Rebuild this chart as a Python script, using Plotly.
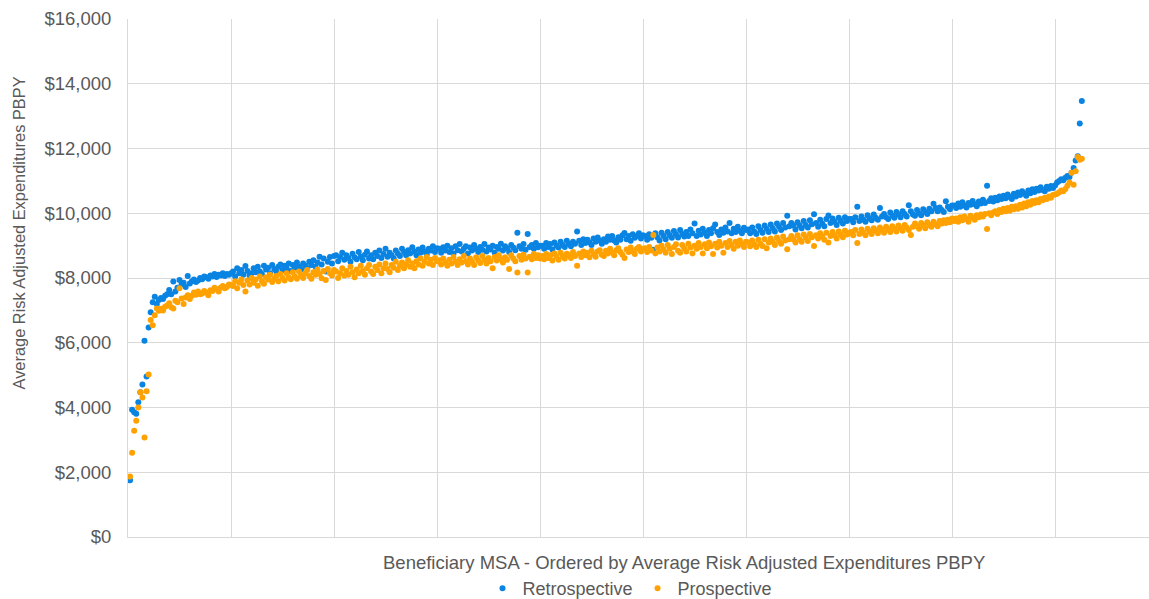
import plotly.graph_objects as go

# Retrospective (blue) values, ordered by MSA rank
retro_a = [1750, 3930, 3850, 3810, 4160, 4470, 4710, 6060, 4960, 6470, 6940, 7250]
retro_b = [7420, 7200, 7320, 7380, 7350, 7450, 7500, 7630, 7500, 7890, 7580, 7700, 7940, 7800, 7850,
           7720, 8060, 7830, 7900, 7950, 7880, 7920, 8000, 7960, 8050, 8020, 7980, 8080, 8050, 8120,
           8030, 8100, 8080, 8150, 8060, 8120, 8100, 8150]
retro_c = [8200, 8050, 8300, 8150, 8250, 8100, 8370, 8220, 8080, 8150,
           8300, 8180, 8350, 8200, 8120, 8380, 8260, 8320, 8150, 8400,
           8280, 8200, 8350, 8420, 8250, 8380, 8300, 8450, 8220, 8400,
           8320, 8480, 8350, 8260, 8450, 8380, 8300, 8500, 8400, 8550,
           8350, 8480, 8660, 8420, 8600, 8200, 8500, 8650, 8450, 8680]
retro_d = [8700, 8520, 8650, 8780, 8560, 8700, 8620, 8500, 8750, 8640,
           8580, 8800, 8660, 8550, 8720, 8820, 8600, 8700, 8580, 8780,
           8680, 8850, 8620, 8740, 8900, 8660, 8780, 8700, 8600, 8850,
           8750, 8680, 8900, 8800, 8700, 8860, 8760, 8950, 8820, 8700,
           8880, 8780, 8940, 8820, 8730, 8900, 8850, 8980, 8800, 8920]
retro_e = [8900, 8780, 8950, 8850, 9000, 8800, 8920, 8750, 8980, 8860,
           9050, 8820, 8900, 8980, 8760, 8940, 8850, 9020, 8900, 8800,
           8960, 8870, 9050, 8820, 8940, 8880, 9000, 8780, 8960, 8900,
           9060, 8850, 8980, 8920, 8800, 9020, 8940, 8860, 9400, 8980,
           8900, 9050, 8870, 9360, 8960, 9020, 8900, 9080, 8950, 9000]
retro_f = [9000, 8900, 9080, 8960, 9050, 8880, 9100, 9000, 8940, 9120,
           9020, 8960, 9150, 9050, 8980, 9120, 9060, 9440, 9150, 9020,
           9200, 9080, 9180, 9100, 9020, 9220, 9120, 9250, 9150, 9060,
           9200, 9120, 9280, 9180, 9300, 9160, 9100, 9260, 9180, 9320,
           9390, 9200, 9300, 9150, 9350, 9240, 9300, 9380, 9220, 9320]
retro_g = [9300, 9180, 9350, 9240, 8870, 9380, 9260, 9160, 9400, 9300,
           9200, 9420, 9320, 9240, 9450, 9350, 9250, 9480, 9360, 9280,
           9420, 9300, 9500, 9380, 9680, 9300, 9460, 9340, 9520, 9400,
           9300, 9480, 9380, 9540, 9650, 9420, 9330, 9500, 9400, 9560,
           9440, 9700, 9380, 9520, 9420, 9580, 9460, 9380, 9550, 9480]
retro_h = [9500, 9380, 9560, 9440, 9360, 9600, 9480, 9400, 9620, 9520,
           9420, 9650, 9540, 9440, 9680, 9580, 9480, 9700, 9560, 9920,
           9600, 9700, 9620, 9500, 9720, 9620, 9540, 9760, 9640, 9560,
           9780, 9660, 9970, 9700, 9580, 9800, 9680, 9600, 9820, 9930,
           9700, 9840, 9740, 9640, 9860, 9760, 9680, 9880, 9760, 9820]
retro_i = [9820, 9720, 9880, 10200, 9760, 9900, 9800, 9740, 9940, 9840,
           9780, 9960, 9860, 9800, 10160, 9900, 9980, 9880, 9820, 10020,
           9920, 9860, 10040, 9960, 9880, 10060, 9980, 9900, 10250, 10060,
           9960, 9920, 10100, 10000, 9940, 10120, 10040, 9980, 10140, 10060,
           10290, 10160, 10060, 10180, 10100, 10040, 10370, 10200, 10120, 10240]
retro_j = [10240, 10160, 10300, 10200, 10340, 10240, 10180, 10320, 10260, 10380,
           10280, 10220, 10360, 10300, 10420, 10320, 10850, 10380, 10460, 10360,
           10480, 10400, 10520, 10440, 10540, 10460, 10580, 10500, 10440, 10600,
           10520, 10640, 10560, 10680, 10600, 10540, 10700, 10620, 10740, 10660,
           10760, 10700, 10800, 10720, 10680, 10820, 10760, 10840, 10780, 10860]
retro_k = [10950, 11000, 11050, 11020, 11100, 11150, 11120, 11250, 11400, 11630, 11760, 12770, 13470]

# Prospective (orange) values, same MSA order
prosp_a = [1870, 2600, 3280, 3590, 4000, 4470, 4310, 3070, 4500, 5020, 6700, 6540]
prosp_b = [6850, 7060, 6990, 7050, 7000, 7110, 7150, 7220, 7100, 7060, 7300, 7250, 7680, 7370, 7200,
           7400, 7470, 7350, 7450, 7550, 7480, 7580, 7500, 7520, 7600, 7550, 7470, 7620, 7600, 7700,
           7650, 7580, 7700, 7750, 7680, 7720, 7800, 7780]
prosp_c = [7750, 7900, 7680, 7850, 7950, 7780, 7580, 7920, 7800, 8000,
           7850, 7950, 7760, 8050, 7900, 7820, 8020, 7950, 8100, 7880,
           7980, 8060, 7900, 8120, 8000, 7920, 8150, 8020, 7960, 8180,
           8050, 7980, 8200, 8080, 8000, 8150, 8250, 8060, 7980, 8180,
           8100, 8260, 8120, 7990, 8220, 7940, 8280, 8150, 8080, 8250]
prosp_d = [8200, 8000, 8150, 8300, 8080, 8220, 8100, 8350, 8180, 8020,
           8260, 8150, 8380, 8220, 8100, 8300, 8400, 8200, 8120, 8350,
           8250, 8420, 8150, 8300, 8450, 8280, 8180, 8400, 8320, 8500,
           8250, 8380, 8480, 8300, 8420, 8550, 8350, 8450, 8300, 8520,
           8420, 8600, 8380, 8500, 8650, 8450, 8560, 8400, 8620, 8520]
prosp_e = [8550, 8420, 8600, 8480, 8380, 8560, 8450, 8650, 8500, 8400,
           8580, 8480, 8680, 8520, 8420, 8600, 8500, 8400, 8640, 8540,
           8460, 8680, 8560, 8450, 8620, 8520, 8300, 8650, 8540, 8700,
           8580, 8480, 8640, 8560, 8280, 8700, 8600, 8520, 8170, 8680,
           8560, 8720, 8600, 8170, 8660, 8580, 8740, 8620, 8700, 8600]
prosp_f = [8680, 8580, 8740, 8620, 8700, 8540, 8760, 8660, 8560, 8780,
           8680, 8600, 8750, 8700, 8620, 8800, 8680, 8380, 8760, 8650,
           8820, 8700, 8780, 8640, 8840, 8740, 8660, 8820, 8860, 8720,
           8680, 8840, 8760, 8900, 8780, 8700, 8860, 8920, 8800, 8720,
           8620, 8880, 8800, 8940, 8820, 8740, 8900, 8960, 8820, 8900]
prosp_g = [8920, 8800, 8960, 8850, 9330, 8760, 8940, 8820, 9000, 8880,
           8780, 9020, 8900, 8740, 8960, 9040, 8840, 8780, 9020, 8920,
           8820, 9060, 8940, 8760, 9000, 8900, 9080, 8960, 8760, 9040,
           8920, 9100, 8980, 8740, 9060, 8940, 9120, 9000, 8780, 9080,
           8960, 9140, 9020, 8900, 9120, 9000, 9160, 9040, 8960, 9120]
prosp_h = [9100, 8980, 9160, 9040, 8960, 9180, 9060, 8990, 9200, 8920,
           9100, 9220, 9120, 9020, 9250, 9140, 9060, 9280, 9160, 8890,
           9200, 9300, 9200, 9100, 9320, 9200, 9120, 9340, 9240, 9140,
           9360, 9260, 8990, 9320, 9220, 9380, 9280, 9180, 9400, 9100,
           9300, 9420, 9320, 9220, 9440, 9340, 9260, 9460, 9340, 9400]
prosp_i = [9420, 9320, 9480, 9080, 9360, 9500, 9400, 9320, 9520, 9440,
           9360, 9540, 9460, 9380, 9560, 9480, 9400, 9580, 9500, 9420,
           9600, 9520, 9440, 9620, 9540, 9460, 9640, 9560, 9480, 9330,
           9580, 9680, 9600, 9520, 9700, 9620, 9540, 9720, 9640, 9580,
           9740, 9660, 9600, 9760, 9680, 9780, 9700, 9800, 9720, 9840]
prosp_j = [9760, 9840, 9740, 9880, 9780, 9900, 9820, 9740, 9920, 9860,
           9800, 9940, 9880, 9960, 9900, 9980, 9510, 10000, 9940, 10020,
           10060, 9980, 10100, 10040, 10140, 10060, 10160, 10080, 10200, 10120,
           10220, 10140, 10260, 10180, 10300, 10220, 10340, 10260, 10380, 10320,
           10400, 10340, 10440, 10400, 10480, 10440, 10520, 10480, 10560, 10580]
prosp_k = [10600, 10650, 10700, 10680, 10750, 10850, 10950, 11250, 10880, 11300, 11740, 11650, 11680]

retrospective = (retro_a + retro_b + retro_c + retro_d + retro_e + retro_f + retro_g + retro_h
                 + retro_i + retro_j + retro_k)
prospective = (prosp_a + prosp_b + prosp_c + prosp_d + prosp_e + prosp_f + prosp_g + prosp_h
               + prosp_i + prosp_j + prosp_k)
msa_rank = list(range(1, len(retrospective) + 1))

y_ticks = list(range(0, 16001, 2000))
y_tick_labels = ["${:,}".format(v) for v in y_ticks]

FONT = "Liberation Sans, Arial, sans-serif"
GREY = "#595959"
GRID = "#d9d9d9"
HSIZE = 18.5

W, H = 1149, 599
L, R, T = 128, 0, 19
B = H - 537
PW, PH = W - L - R, H - T - B


def px_x(sx):
    return (sx - L) / PW


def px_y(sy):
    return (H - B - sy) / PH


fig = go.Figure()
fig.add_trace(go.Scatter(x=msa_rank, y=retrospective, mode="markers", name="Retrospective",
                         marker=dict(color="#0A84E2", size=6)))
fig.add_trace(go.Scatter(x=msa_rank, y=prospective, mode="markers", name="Prospective",
                         marker=dict(color="#FFA201", size=6)))

fig.update_layout(
    width=W, height=H,
    margin=dict(l=L, r=R, t=T, b=B, autoexpand=False),
    plot_bgcolor="white", paper_bgcolor="white",
    font=dict(family=FONT, size=HSIZE, color=GREY),
    showlegend=True,
    legend=dict(orientation="h", x=px_x(630), xanchor="center", y=px_y(588.5),
                yanchor="middle", font=dict(family=FONT, size=18, color=GREY), itemwidth=30),
    xaxis=dict(range=[0, 495.6], dtick=50, tick0=0, showticklabels=False, showgrid=True,
               gridcolor=GRID, gridwidth=1, zeroline=False, showline=True, linecolor=GRID,
               linewidth=1, ticks="", automargin=False),
    yaxis=dict(range=[0, 16000], tickvals=y_ticks, ticktext=y_tick_labels,
               showgrid=True, gridcolor=GRID, gridwidth=1, zeroline=False, showline=True,
               linecolor=GRID, linewidth=1, ticks="", ticklabelstandoff=12, automargin=False,
               tickfont=dict(family=FONT, size=HSIZE, color=GREY)),
    annotations=[
        dict(text="Beneficiary MSA - Ordered by Average Risk Adjusted Expenditures PBPY",
             xref="paper", yref="paper", x=px_x(684), y=px_y(562),
             xanchor="center", yanchor="middle", showarrow=False,
             font=dict(family=FONT, size=HSIZE, color=GREY)),
        dict(text="Average Risk Adjusted Expenditures PBPY",
             xref="paper", yref="paper", x=px_x(18.5), y=px_y(233),
             xanchor="center", yanchor="middle", showarrow=False, textangle=-90,
             font=dict(family=FONT, size=16.4, color=GREY)),
    ],
)

# remove the browser's default 8px page margin so the figure fills the window exactly
fig.write_html("out.html", config={"displayModeBar": False},
               post_script="document.body.style.margin='0';document.body.style.overflow='hidden';")
